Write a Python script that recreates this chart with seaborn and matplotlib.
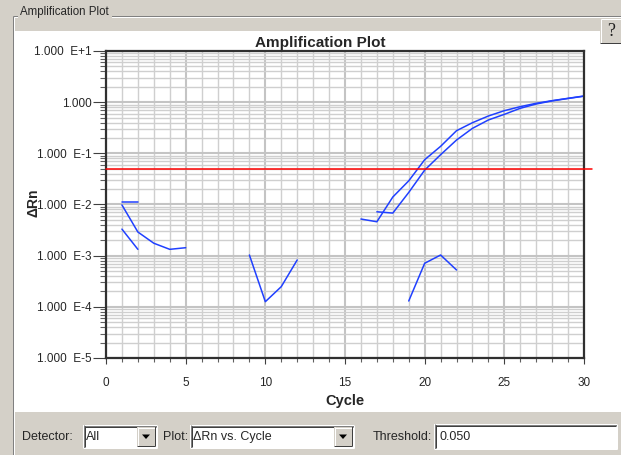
import numpy as np
import pandas as pd
import matplotlib
matplotlib.use("Agg")
import matplotlib.pyplot as plt
import matplotlib.transforms as mtrans
from matplotlib.patches import Rectangle, Polygon
from matplotlib.lines import Line2D
from matplotlib.ticker import LogLocator, MultipleLocator, NullFormatter, FixedLocator
import seaborn as sns

# ---------------- data ----------------
seg_a_cycles = [1, 2]
seg_a_drn = [0.0112, 0.0112]
seg_b_cycles = [1, 2, 3, 4, 5]
seg_b_drn = [0.0098, 0.0029, 0.00175, 0.00133, 0.00143]
seg_c_cycles = [1, 2]
seg_c_drn = [0.0033, 0.00133]
seg_d_cycles = [9, 10, 11, 12]
seg_d_drn = [0.00103, 0.000126, 0.000248, 0.000824]
seg_e_cycles = [19, 20, 21, 22]
seg_e_drn = [0.00013, 0.00071, 0.00103, 0.000525]
seg_f_cycles = [16, 17, 18, 19, 20, 21, 22, 23, 24, 25, 26, 27, 28, 29, 30]
seg_f_drn = [0.0052, 0.0046, 0.014, 0.029, 0.075, 0.137, 0.277, 0.397, 0.537,
             0.682, 0.817, 0.951, 1.07, 1.19, 1.32]
seg_g_cycles = [17, 18, 19, 20, 21, 22, 23, 24, 25, 26, 27, 28, 29, 30]
seg_g_drn = [0.0072, 0.0068, 0.0172, 0.047, 0.094, 0.182, 0.308, 0.449, 0.578,
             0.759, 0.921, 1.06, 1.18, 1.31]
threshold = 0.050

x_ticks = [0, 5, 10, 15, 20, 25, 30]
y_ticks = [1e-5, 1e-4, 1e-3, 1e-2, 1e-1, 1e0, 1e1]
y_tick_labels = ["1.000  E-5", "1.000  E-4", "1.000  E-3", "1.000  E-2",
                 "1.000  E-1", "1.000", "1.000  E+1"]

segments = {
    "a": (seg_a_cycles, seg_a_drn), "b": (seg_b_cycles, seg_b_drn),
    "c": (seg_c_cycles, seg_c_drn), "d": (seg_d_cycles, seg_d_drn),
    "e": (seg_e_cycles, seg_e_drn), "f": (seg_f_cycles, seg_f_drn),
    "g": (seg_g_cycles, seg_g_drn),
}
rows = []
for name, (cs, vs) in segments.items():
    for c, v in zip(cs, vs):
        rows.append({"Well": name, "Cycle": c, "dRn": v})
df = pd.DataFrame(rows)

# ---------------- figure ----------------
W, H = 621, 455
sns.set_style("white")
plt.rcParams["font.family"] = ["Liberation Sans", "DejaVu Sans"]

GRAY = "#d4d0c8"
BLUE = "#2040ff"
fig = plt.figure(figsize=(W / 100, H / 100), dpi=100)
fig.patch.set_facecolor(GRAY)
px = mtrans.Affine2D().scale(1 / W, -1 / H).translate(0, 1) + fig.transFigure


def rect(x0, y0, x1, y1, fc, z=0):
    fig.add_artist(Rectangle((x0, y0), x1 - x0, y1 - y0, transform=px,
                             facecolor=fc, edgecolor="none", zorder=z))


def line(xs, ys, c, lw=1.0, z=1):
    fig.add_artist(Line2D(xs, ys, transform=px, color=c, lw=lw * 0.72,
                          zorder=z, solid_capstyle="butt"))


def text(x, y, s, size=10, ha="left", **kw):
    fig.text(x, y, s, transform=px, fontsize=size, ha=ha, va="center", **kw)


# white plotting panel
rect(15, 31, 621, 412, "white")
# group box etched frame
line([12.5, 621], [15.5, 15.5], "#808080")
line([13.5, 621], [16.5, 16.5], "white")
line([12.5, 12.5], [15.5, 455], "#808080")
line([13.5, 13.5], [16.5, 455], "white")
rect(18, 6, 112, 22, GRAY, z=2)
text(20, 12, "Amplification Plot", size=8.3, zorder=3)

# help button
rect(600, 18, 621, 43, GRAY, z=2)
line([600.5, 621], [18.5, 18.5], "white", z=3)
line([600.5, 600.5], [18.5, 43], "white", z=3)
line([600, 621], [42.5, 42.5], "#404040", z=3)
text(611, 31, "?", size=13, ha="center", family="Liberation Serif", color="#202020", zorder=4)

# ---------------- axes ----------------
ax = fig.add_axes([106 / W, 1 - 358 / H, 478 / W, 307 / H])
ax.set_facecolor("white")
sns.lineplot(data=df, x="Cycle", y="dRn", units="Well", estimator=None,
             color=BLUE, linewidth=1.1, sort=False, legend=False, ax=ax)
ax.set_yscale("log")
ax.set_xlim(0, 30)
ax.set_ylim(1e-5, 10)

ax.plot([0, 1.017], [threshold, threshold], color="#ff0000", lw=1.1,
        transform=ax.get_yaxis_transform(), clip_on=False, zorder=5)

ax.xaxis.set_major_locator(FixedLocator(x_ticks))
ax.xaxis.set_minor_locator(MultipleLocator(1))
ax.set_xticklabels([str(t) for t in x_ticks])
ax.yaxis.set_major_locator(FixedLocator(y_ticks))
ax.set_yticklabels(y_tick_labels)
ax.yaxis.set_minor_locator(LogLocator(base=10, subs=np.arange(2, 10), numticks=20))
ax.yaxis.set_minor_formatter(NullFormatter())

ax.grid(True, which="major", color="#c4c4c4", lw=1.5)
ax.grid(True, which="minor", color="#cfcfcf", lw=1.0)
ax.set_axisbelow(True)

ax.tick_params(axis="y", which="major", length=9.5, width=0.8, color="#404040",
               pad=1, labelsize=8.5, left=True)
ax.tick_params(axis="y", which="minor", length=4.5, width=0.8, color="#606060", left=True)
ax.tick_params(axis="x", which="major", length=4.5, width=0.8, color="#404040",
               pad=9, labelsize=8.5, bottom=True)
ax.tick_params(axis="x", which="minor", length=3, width=0.8, color="#606060", bottom=True)

for s in ax.spines.values():
    s.set_color("#303030")
    s.set_linewidth(1.6)
    s.set_visible(True)

ax.set_xlabel("Cycle", fontsize=10.5, fontweight="bold")
ax.xaxis.set_label_coords(0.5, (358 - 401) / 307)
ax.xaxis.label.set_va("center")
ax.set_ylabel("ΔRn", fontsize=10, fontweight="bold")
ax.yaxis.set_label_coords((33 - 106) / 478, (358 - 203) / 307)
ax.yaxis.label.set_va("center")

t = ax.set_title("Amplification Plot", fontsize=11, fontweight="bold")
t.set_position(((320 - 106) / 478, (358 - 40) / 307))
t.set_va("center")

# ---------------- bottom controls ----------------
def sunken(x0, y0, x1, y1):
    rect(x0, y0, x1, y1, "white")
    line([x0 + 0.5, x1], [y0 + 0.5, y0 + 0.5], "#808080")
    line([x0 + 0.5, x0 + 0.5], [y0, y1], "#808080")
    line([x0 + 1.5, x1 - 1], [y0 + 1.5, y0 + 1.5], "#404040")
    line([x0 + 1.5, x0 + 1.5], [y0 + 1, y1 - 1], "#404040")
    line([x0, x1], [y1 - 0.5, y1 - 0.5], "white")
    line([x1 - 0.5, x1 - 0.5], [y0, y1], "white")


def dropbtn(x0, y0, x1, y1):
    rect(x0, y0, x1, y1, GRAY, z=2)
    line([x0 + 0.5, x1], [y0 + 0.5, y0 + 0.5], "white", z=3)
    line([x0 + 0.5, x0 + 0.5], [y0, y1], "white", z=3)
    line([x0, x1], [y1 - 0.5, y1 - 0.5], "#404040", z=3)
    line([x1 - 0.5, x1 - 0.5], [y0, y1], "#404040", z=3)
    cx, cy = (x0 + x1) / 2, (y0 + y1) / 2
    fig.add_artist(Polygon([[cx - 4, cy - 2], [cx + 4, cy - 2], [cx, cy + 2.5]],
                           closed=True, transform=px, facecolor="black",
                           edgecolor="none", zorder=4))


CS = 9
text(22, 437, "Detector:", size=CS)
sunken(83, 425, 157, 448)
text(86, 437, "All", size=CS)
dropbtn(137, 427, 155, 446)

text(163, 437, "Plot:", size=CS)
sunken(190, 425, 354, 448)
text(193, 437, "ΔRn vs. Cycle", size=CS)
dropbtn(334, 427, 352, 446)

text(373, 437, "Threshold:", size=CS)
sunken(434, 424, 617, 449)
text(439, 437, "0.050", size=CS)

fig.savefig("out.png", dpi=100, facecolor=GRAY)
